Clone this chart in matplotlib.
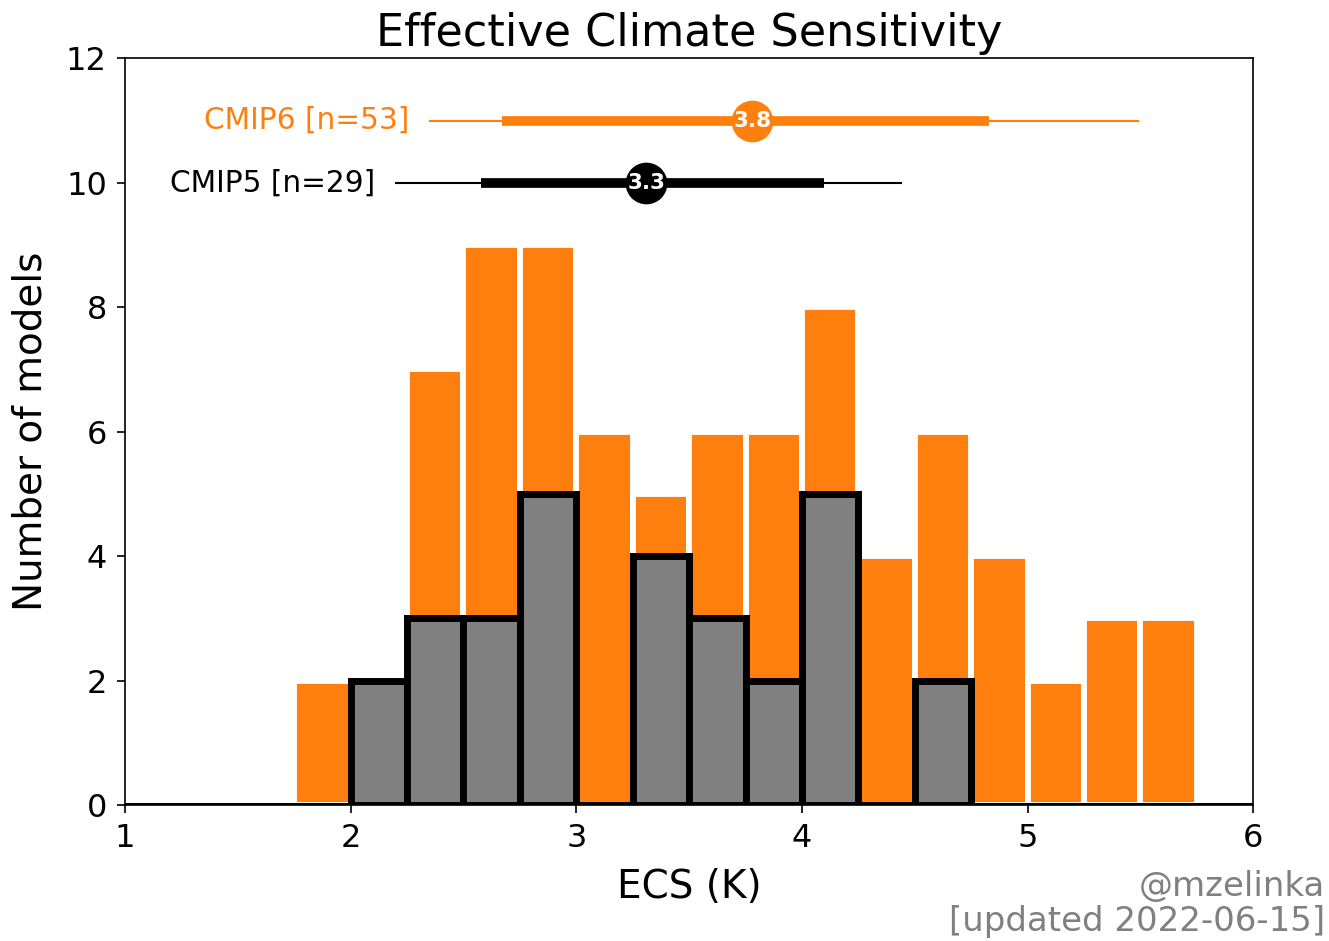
import numpy as np
import matplotlib
matplotlib.use("Agg")
import matplotlib.pyplot as plt

# histogram bins (K) and counts
bin_edges = np.arange(1.75, 5.76, 0.25)
cmip6_counts = [2, 0, 7, 9, 9, 6, 5, 6, 6, 8, 4, 6, 4, 2, 3, 3]
cmip5_edges = np.arange(2.0, 4.76, 0.25)
cmip5_counts = [2, 3, 3, 5, 0, 4, 3, 2, 5, 0, 2]

# summary stats: (min, p-low, mean, p-high, max)
cmip6_stats = (2.35, 2.67, 3.78, 4.83, 5.49)
cmip5_stats = (2.20, 2.58, 3.31, 4.10, 4.44)
cmip6_label = "CMIP6 [n=53]"
cmip5_label = "CMIP5 [n=29]"

orange = "#ff7f0e"

fig = plt.figure(figsize=(13.29, 9.41), dpi=100)
ax = fig.add_axes([0.094, 0.1445, 0.849, 0.7935])

centers6 = bin_edges[:-1] + 0.125
ax.bar(centers6, cmip6_counts, width=0.25, color=orange, edgecolor="w",
       linewidth=4.2, zorder=1)

centers5 = cmip5_edges[:-1] + 0.125
ax.bar(centers5, cmip5_counts, width=0.25, color="gray", edgecolor="k",
       linewidth=5, zorder=2)
ax.axhline(0, color="k", lw=3.6, zorder=3)


def summary(stats, y, color, label):
    lo, plo, mu, phi, hi = stats
    ax.plot([lo, hi], [y, y], color=color, lw=1.5, zorder=4)
    ax.plot([plo, phi], [y, y], color=color, lw=7, solid_capstyle="butt", zorder=4)
    ax.plot(mu, y, "o", color=color, ms=29, zorder=5)
    ax.text(mu, y, f"{mu:.1f}", color="w", fontsize=15.5, fontweight="bold",
            ha="center", va="center", zorder=6)
    ax.text(lo - 0.09, y, label, color=color, fontsize=21.3, ha="right", va="center")


summary(cmip6_stats, 11, orange, cmip6_label)
summary(cmip5_stats, 10, "k", cmip5_label)

ax.set_xlim(1, 6)
ax.set_ylim(0, 12)
ax.set_xticks(range(1, 7))
ax.set_yticks(range(0, 13, 2))
ax.tick_params(labelsize=23, width=1.2, length=6, pad=7)
for s in ax.spines.values():
    s.set_linewidth(1.2)
ax.set_xlabel("ECS (K)", fontsize=28, labelpad=10)
ax.set_ylabel("Number of models", fontsize=28, labelpad=12)
ax.set_title("Effective Climate Sensitivity", fontsize=32, pad=9)

fig.text(0.997, 0.003, "@mzelinka\n[updated 2022-06-15]", color="gray",
         fontsize=24.5, ha="right", va="bottom", linespacing=1.1)

fig.savefig("out.png", dpi=100)
